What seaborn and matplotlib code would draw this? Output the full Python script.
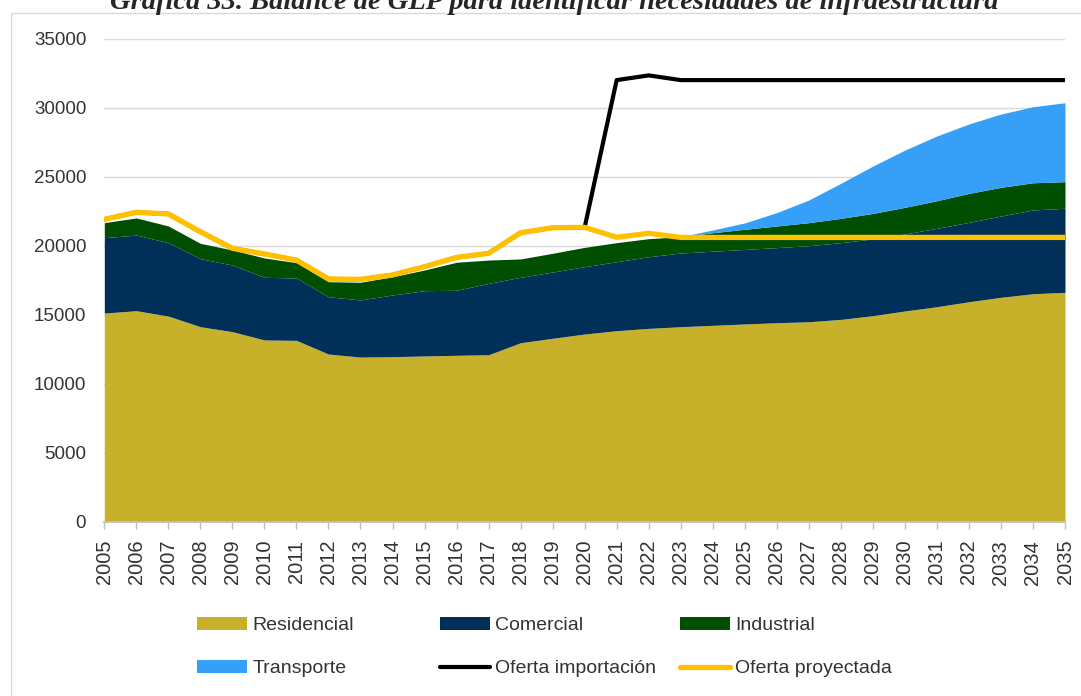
import matplotlib
matplotlib.use("Agg")
import matplotlib.pyplot as plt
from matplotlib.patches import Rectangle, Patch
from matplotlib.lines import Line2D
import pandas as pd
import seaborn as sns

# GLP balance by sector (stacked demand) against supply scenarios
years = list(range(2005, 2036))
residencial = [15120, 15290, 14900, 14130, 13770, 13170, 13140, 12150, 11930, 11960,
               12010, 12060, 12100, 12970, 13290, 13600, 13840, 14010, 14130, 14230,
               14330, 14420, 14490, 14660, 14930, 15270, 15580, 15940, 16260, 16520, 16620]
comercial = [5460, 5480, 5320, 4930, 4830, 4540, 4520, 4150, 4140, 4470,
             4730, 4710, 5170, 4740, 4800, 4880, 5000, 5190, 5340, 5370,
             5400, 5440, 5510, 5560, 5560, 5580, 5680, 5750, 5890, 6070, 6090]
industrial = [1090, 1240, 1210, 1110, 1090, 1400, 1110, 1090, 1280, 1320,
              1500, 2030, 1690, 1330, 1360, 1400, 1380, 1310, 1180, 1340,
              1460, 1570, 1670, 1760, 1850, 1930, 2000, 2100, 2080, 1970, 1930]
transporte = [0, 0, 0, 0, 0, 0, 0, 0, 0, 0,
              0, 0, 0, 0, 0, 0, 0, 0, 0, 200,
              460, 970, 1640, 2540, 3430, 4150, 4690, 5030, 5310, 5510, 5720]
oferta_proyectada = [21910, 22420, 22300, 21010, 19810, 19400, 18960, 17590, 17560, 17880,
                     18480, 19150, 19450, 20940, 21300, 21330, 20610, 20900, 20600, 20600,
                     20600, 20600, 20600, 20600, 20600, 20600, 20600, 20600, 20600, 20600, 20600]
oferta_importacion = [21910, 22420, 22300, 21010, 19810, 19400, 18960, 17590, 17560, 17880,
                      18480, 19150, 19450, 20940, 21300, 21330, 32000, 32340, 32000, 32000,
                      32000, 32000, 32000, 32000, 32000, 32000, 32000, 32000, 32000, 32000, 32000]

sectores = ["Residencial", "Comercial", "Industrial", "Transporte"]
colores = ["#C8B12A", "#003058", "#004F00", "#36A0F8"]
color_import = "#000000"
color_proy = "#FFC000"
color_texto = "#333333"

demanda = pd.DataFrame({"Año": years, "Residencial": residencial, "Comercial": comercial,
                        "Industrial": industrial, "Transporte": transporte})
oferta = pd.DataFrame({"Año": years, "Oferta importación": oferta_importacion,
                       "Oferta proyectada": oferta_proyectada})

sns.set_theme(style="white")
plt.rcParams["font.family"] = ["Liberation Sans", "DejaVu Sans"]

W, H = 1081, 696
fig = plt.figure(figsize=(W / 100, H / 100), dpi=100)
ax = fig.add_axes([104.3 / W, 1 - 521.7 / H, (1065 - 104.3) / W, (521.7 - 38.7) / H])

# light frame around the chart
fig.patches.append(Rectangle((10.5 / W, -0.05), 1.2, (H - 13) / H + 0.05,
                             transform=fig.transFigure, fill=False,
                             edgecolor="#D9D9D9", lw=1.0, zorder=0))

ax.stackplot(demanda["Año"], *[demanda[s] for s in sectores], colors=colores,
             labels=sectores, zorder=2, lw=0)

sns.lineplot(data=oferta, x="Año", y="Oferta importación", ax=ax, color=color_import,
             lw=3.0, zorder=4, legend=False)
sns.lineplot(data=oferta, x="Año", y="Oferta proyectada", ax=ax, color=color_proy,
             lw=3.8, zorder=5, legend=False)

ax.set_xlim(2005, 2035)
ax.set_ylim(0, 35000)
ax.set_yticks(range(0, 35001, 5000))
ax.set_xticks(years)
ax.set_xticklabels([str(y) for y in years], rotation=90, fontsize=14.5, color=color_texto)
ax.tick_params(axis="y", length=0, pad=13, labelsize=13.5, labelcolor=color_texto)
ax.tick_params(axis="x", length=5, width=1, color="#BFBFBF", pad=8, direction="out",
               bottom=True)
ax.set_xlabel("")
ax.set_ylabel("")
ax.grid(axis="y", color="#D9D9D9", lw=1.0, zorder=0)
ax.grid(axis="x", visible=False)
ax.set_axisbelow(True)
for side in ["top", "right", "left"]:
    ax.spines[side].set_visible(False)
ax.spines["bottom"].set_color("#BFBFBF")

# title partially above the chart frame
fig.text(0.513, 1 - 9 / H, "Gráfica 33. Balance de GLP para identificar necesidades de infraestructura",
         ha="center", va="baseline", fontsize=20.5, fontweight="bold", fontstyle="italic",
         family=["Liberation Serif", "DejaVu Serif"])

# legend laid out in three equal-width columns
handles = [Patch(facecolor=c, edgecolor="none", label=s) for s, c in zip(sectores, colores)]
handles.append(Line2D([], [], color=color_import, lw=3.0, label="Oferta importación"))
handles.append(Line2D([], [], color=color_proy, lw=3.8, label="Oferta proyectada"))
columnas = [(197, [handles[0], handles[3]]),
            (440, [handles[1], handles[4]]),
            (680, [handles[2], handles[5]])]
for x0, hs in columnas:
    leg = fig.legend(handles=hs, loc="upper left", bbox_to_anchor=(x0 / W, 1 - 617 / H),
                     frameon=False, borderpad=0, borderaxespad=0, fontsize=14,
                     handlelength=2.58, handleheight=0.62, handletextpad=0.26,
                     labelspacing=1.33)
    for t in leg.get_texts():
        t.set_color(color_texto)

fig.savefig("out.png", dpi=100)
